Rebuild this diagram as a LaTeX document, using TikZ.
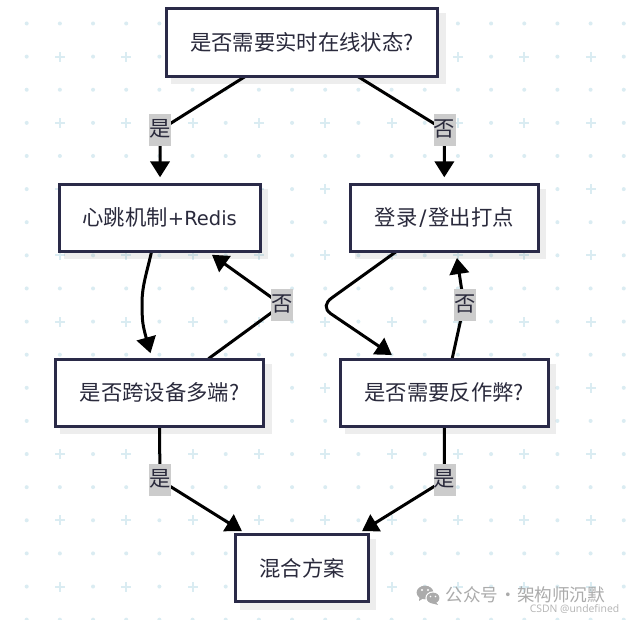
\documentclass[tikz,border=0pt]{standalone}
\usepackage{fontspec}
\setmainfont{Noto Sans CJK SC}
\newfontfamily\csdnfont{Open Sans}
\newfontfamily\latinfont{DejaVu Sans}
\usetikzlibrary{arrows.meta,calc,backgrounds}
\definecolor{gridc}{HTML}{DAECF2}
\definecolor{boxc}{HTML}{2A2A48}
\definecolor{textc}{HTML}{2A2A3C}
\definecolor{labelc}{HTML}{CCCCCC}
\definecolor{markc}{HTML}{ABABAB}
\definecolor{csdnc}{HTML}{B4B4B4}
\pgfdeclarelayer{gridlayer}\pgfdeclarelayer{shadowlayer}\pgfdeclarelayer{edgelayer}
\pgfsetlayers{gridlayer,shadowlayer,edgelayer,main}
\tikzset{
  x=0.75pt,y=-0.75pt,
  flowbox/.style={draw=boxc,fill=white,line width=2.25pt,inner sep=0pt,text=textc,font=\fontsize{16pt}{19pt}\selectfont,minimum height=50.4pt},
  edgelabel/.style={fill=labelc,inner sep=0pt,text=textc,font=\fontsize{16pt}{19pt}\selectfont,minimum width=16.5pt,minimum height=24pt,text height=13pt,text depth=3pt},
  flow/.style={draw=black,line width=2.25pt,-{Triangle[length=12pt,width=14.5pt]}},
  flowplain/.style={draw=black,line width=2.25pt},
  shadowfill/.style={fill=black,fill opacity=0.07},
  gridmark/.style={fill=gridc},
}
\begin{document}
\begin{tikzpicture}
\useasboundingbox (0,0) rectangle (626,620);

% dotted / plus background
\begin{pgfonlayer}{gridlayer}
\fill[white] (0,0) rectangle (626,620);
\foreach \i in {0,...,18}{
  \foreach \j in {0,...,18}{
    \pgfmathsetmacro{\px}{26.7+33.17*\i}
    \pgfmathsetmacro{\py}{23.5+33.12*\j}
    \pgfmathtruncatemacro{\isplus}{(mod(\i,2)==1 && mod(\j,2)==1) ? 1 : 0}
    \ifnum\isplus=1
      \fill[gridmark] (\px-5,\py-1) rectangle (\px+5,\py+1);
      \fill[gridmark] (\px-1,\py-5) rectangle (\px+1,\py+5);
    \else
      \fill[gridmark] (\px,\py) circle[radius=1.5pt];
    \fi
  }
}
\end{pgfonlayer}

% boxes
\node[flowbox,minimum width=203.25pt] (top) at (302,42.5) {是否需要实时在线状态?};
\node[flowbox,minimum width=151.1pt] (heart) at (159.75,217.7) {心跳机制{\latinfont\fontsize{14.6pt}{19pt}\selectfont +Redis}};
\node[flowbox,minimum width=140.8pt] (login) at (444.3,217.7) {登录\hspace{1.5pt}{\latinfont /}\hspace{1.5pt}登出打点};
\node[flowbox,minimum width=156pt] (cross) at (159.5,392.8) {是否跨设备多端?};
\node[flowbox,minimum width=156.2pt] (anti) at (444.3,392.8) {是否需要反作弊?};
\node[flowbox,minimum width=99.3pt] (mix) at (302,568) {混合方案};

% edge labels
\node[edgelabel] (lyes1) at (160,130) {是};
\node[edgelabel] (lno1) at (444.5,130) {否};
\node[edgelabel] (lno2) at (282,305) {否};
\node[edgelabel] (lno3) at (465,305) {否};
\node[edgelabel] (lyes2) at (160,480) {是};
\node[edgelabel] (lyes3) at (444.5,480) {是};

% shadows
\begin{pgfonlayer}{shadowlayer}
\foreach \n in {top,heart,login,cross,anti,mix}{
  \fill[shadowfill] ([shift={(6,6)}]\n.north west) rectangle ([shift={(6.5,6.5)}]\n.south east);
}
\end{pgfonlayer}

% connectors
\begin{pgfonlayer}{edgelayer}
\draw[flow] ($(top.south west)+(80,-1)$) -- (lyes1.center) -- ($(heart.north)+(0.3,-5.3)$);
\draw[flow] ($(top.south west)+(193,-1)$) -- (lno1.center) -- ($(login.north)+(0,-5.3)$);
\draw[flow] ($(heart.south west)+(94,-1)$) .. controls +(-5,22) and +(-0.3,-18) .. ($(heart.south west)+(84.5,52)$)
  .. controls +(0.3,14) and +(-8.7,-31) .. ($(cross.north west)+(96.5,-4.5)$);
\draw[flow] ($(cross.north west)+(154.5,1)$) -- (lno2.center) -- ($(heart.south east)+(-50,2)$);
\draw[flow] ($(login.south west)+(47,-1)$) -- ($(login.south west)+(-17,45)$)
  .. controls +(-7,5) and +(-7,-5) .. ($(login.south west)+(-18,61)$) -- ($(anti.north west)+(53.2,-2.7)$);
\draw[flow] ($(anti.north west)+(113.5,1)$) -- ($(lno3.center)+(-1,0)$) -- ($(login.south west)+(108,5.2)$);
\draw[flowplain] (cross.south) -- (lyes2.center);
\draw[flow] (lyes2.center) -- ($(mix.north west)+(7.7,-1.7)$);
\draw[flowplain] (anti.south) -- (lyes3.center);
\draw[flow] (lyes3.center) -- ($(mix.north east)+(-7.7,-1.7)$);
\end{pgfonlayer}

% watermark
\fill[markc] (425,592.5) ellipse[x radius=8.4,y radius=6.8];
\fill[markc] (419.5,597) -- (419,601) -- (424,598) -- cycle;
\fill[white] (433,598) ellipse[x radius=7.6,y radius=6.6];
\fill[markc] (433,598) ellipse[x radius=6.4,y radius=5.4];
\fill[markc] (436,602) -- (438,605) -- (431,603) -- cycle;
\fill[white] (422,590) circle[radius=1.2] (428,590) circle[radius=1.2];
\fill[white] (430.5,596.5) circle[radius=0.9] (435.5,596.5) circle[radius=0.9];
\node[text=markc,inner sep=0pt,anchor=west,font=\fontsize{13.2pt}{15pt}\selectfont] (wm) at (445.5,595) {公众号\makebox[13.9pt]{·}架构师沉默};
\node[text=csdnc,inner sep=0pt,anchor=east,font=\csdnfont\fontsize{7.8pt}{10pt}\selectfont] (csdn) at (619.5,609) {CSDN @undefined};
\end{tikzpicture}
\end{document}
